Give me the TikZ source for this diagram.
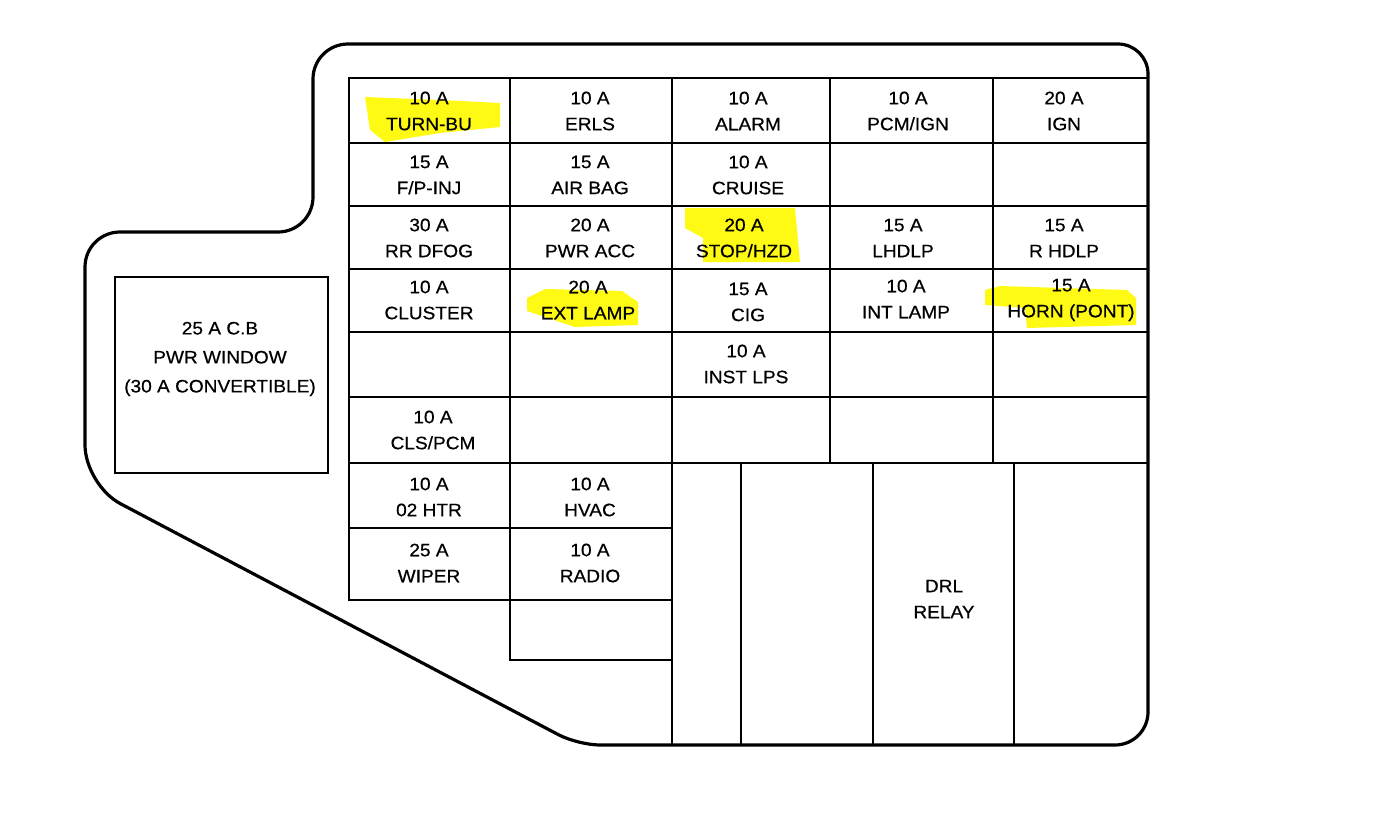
\documentclass[tikz,border=0pt]{standalone}
\usepackage{fontspec}
\setmainfont{Liberation Sans}[FakeStretch=1.06,FakeBold=0.6]
\definecolor{hly}{RGB}{255,250,20}
\begin{document}
\begin{tikzpicture}[x=1pt,y=-1pt,
  outline/.style={line width=3.2pt,line join=round},
  grid/.style={line width=2.3pt,line cap=rect},
  lbl/.style={align=center,inner sep=0pt,font=\fontsize{18}{26}\selectfont},
  hl/.style={fill=hly,draw=none}]
\useasboundingbox (0,0) rectangle (1398,817);
% highlights
\fill[hl] (365,97) -- (440,100) -- (500,103) -- (500,127) -- (440,133) -- (385,142) -- (370,130) -- cycle;
\fill[hl] (685,208) -- (795,208) -- (800,262) -- (703,262) -- (703,238) -- (685,228) -- cycle;
\fill[hl] (527,298) -- (545,289) -- (622,291) -- (638,302) -- (638,325) -- (575,327) -- (527,311) -- cycle;
\fill[hl] (985,290) -- (1000,286) -- (1127,290) -- (1136,298) -- (1136,325) -- (1027,328) -- (1025,308) -- (985,305) -- cycle;
% outline
\draw[outline] (700,44) [rounded corners=30pt] -- (1148,44) [rounded corners=33pt] -- (1148,745) [rounded corners=22pt] -- (578,745) [rounded corners=40pt] -- (85,485) [rounded corners=35pt] -- (85,232) -- (313,232) -- (313,44) -- (700,44);
% grid
\foreach \y in {78,143,206,269,332,397,463} \draw[grid] (349,\y) -- (1148,\y);
\draw[grid] (349,528) -- (672,528);
\draw[grid] (349,600) -- (672,600);
\draw[grid] (510,660) -- (672,660);
\draw[grid] (349,78) -- (349,600);
\draw[grid] (510,78) -- (510,660);
\draw[grid] (672,78) -- (672,745);
\draw[grid] (830,78) -- (830,463);
\draw[grid] (993,78) -- (993,463);
\foreach \x in {741,873,1014} \draw[grid] (\x,463) -- (\x,745);
% circuit breaker box
\draw[grid] (115,277) rectangle (328,473);
\node[lbl,font=\fontsize{18}{29}\selectfont] (cb) at (220,359) {25 A C.B\\PWR WINDOW\\(30 A CONVERTIBLE)};
% labels
\node[lbl] (f1) at (429,111) {10 A\\TURN-BU};
\node[lbl] (f2) at (590,111) {10 A\\ERLS};
\node[lbl] (f3) at (748,111) {10 A\\ALARM};
\node[lbl] (f4) at (908,111) {10 A\\PCM/IGN};
\node[lbl] (f5) at (1064,111) {20 A\\IGN};
\node[lbl] (f6) at (429,175) {15 A\\F/P-INJ};
\node[lbl] (f7) at (590,175) {15 A\\AIR BAG};
\node[lbl] (f8) at (748,175) {10 A\\CRUISE};
\node[lbl] (f9) at (429,238) {30 A\\RR DFOG};
\node[lbl] (f10) at (590,238) {20 A\\PWR ACC};
\node[lbl] (f11) at (744,238) {20 A\\STOP/HZD};
\node[lbl] (f12) at (903,238) {15 A\\LHDLP};
\node[lbl] (f13) at (1064,238) {15 A\\R HDLP};
\node[lbl] (f14) at (429,300) {10 A\\CLUSTER};
\node[lbl] (f15) at (588,300) {20 A\\EXT LAMP};
\node[lbl] (f16) at (748,302) {15 A\\CIG};
\node[lbl] (f17) at (906,299) {10 A\\INT LAMP};
\node[lbl] (f18) at (1071,300) {15 A\\HORN (PONT)};
\node[lbl] (f19) at (746,364) {10 A\\INST LPS};
\node[lbl] (f20) at (433,430) {10 A\\CLS/PCM};
\node[lbl] (f21) at (429,497) {10 A\\02 HTR};
\node[lbl] (f22) at (590,497) {10 A\\HVAC};
\node[lbl] (f23) at (429,563) {25 A\\WIPER};
\node[lbl] (f24) at (590,563) {10 A\\RADIO};
\node[lbl] (drl) at (944,599) {DRL\\RELAY};
\end{tikzpicture}
\end{document}
